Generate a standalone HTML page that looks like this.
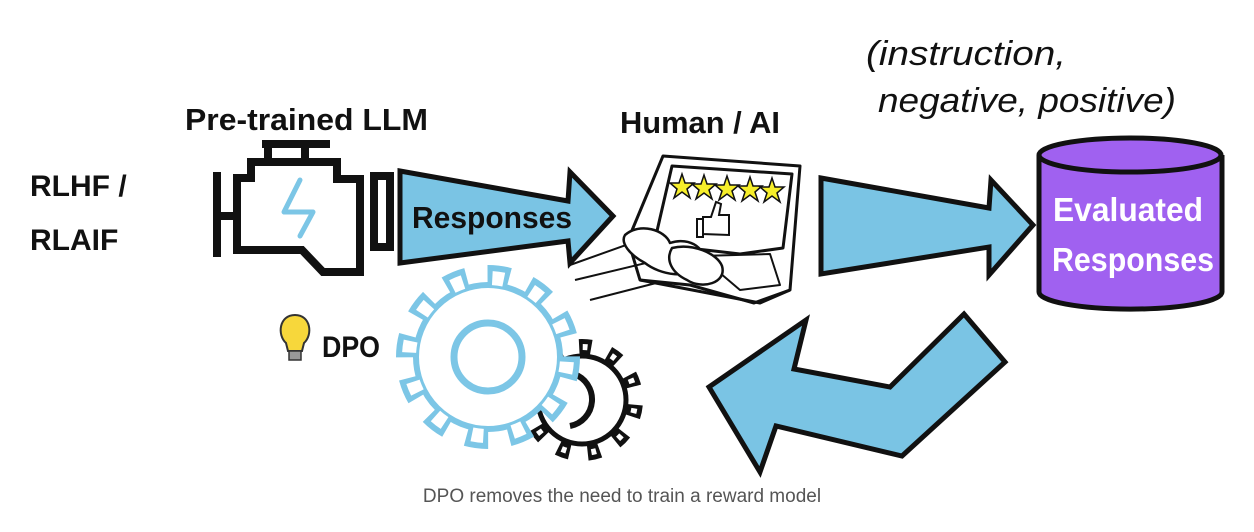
<!DOCTYPE html>
<html><head><meta charset="utf-8"><style>
html,body{margin:0;padding:0;background:#fff;width:1254px;height:532px;overflow:hidden}
svg{display:block}
.b{font-family:"Liberation Sans",sans-serif;font-weight:bold;fill:#111}
.h{font-family:"Liberation Sans",sans-serif;font-style:italic;fill:#111}
</style></head><body>
<svg width="1254" height="532" viewBox="0 0 1254 532" xmlns="http://www.w3.org/2000/svg">
<!-- labels -->
<text class="b" x="30" y="196" font-size="30">RLHF /</text>
<text class="b" x="30" y="250" font-size="30">RLAIF</text>
<text class="b" x="185" y="130" font-size="31" textLength="243" lengthAdjust="spacingAndGlyphs">Pre-trained LLM</text>
<text class="b" x="620" y="133" font-size="31" textLength="160" lengthAdjust="spacingAndGlyphs">Human / AI</text>
<text class="h" x="866" y="65" font-size="34" textLength="200" lengthAdjust="spacingAndGlyphs">(instruction,</text>
<text class="h" x="878" y="112" font-size="34" textLength="298" lengthAdjust="spacingAndGlyphs">negative, positive)</text>

<!-- engine -->
<g fill="none" stroke="#111" stroke-width="8" stroke-linejoin="miter">
<line x1="217" y1="172" x2="217" y2="257"/>
<line x1="217" y1="216" x2="237" y2="216"/>
<path d="M237 178 H251 V162 H337 V179 H360 V272 H323 L302 250 H237 Z"/>
<rect x="374" y="176" width="16" height="71"/>
<line x1="268" y1="161" x2="268" y2="144"/>
<line x1="305" y1="161" x2="305" y2="144"/>
<line x1="262" y1="144" x2="330" y2="144"/>
</g>
<path d="M300 180 L284 212 H313 L300 236" fill="none" stroke="#7cc6e6" stroke-width="5" stroke-linecap="round" stroke-linejoin="round"/>

<!-- arrow 1 -->
<polygon points="400,171 568,201 570,172 613,216 570,263 568,241 400,263" fill="#7ac4e4" stroke="#111" stroke-width="5" stroke-linejoin="miter"/>
<text class="b" x="412" y="228" font-size="31" textLength="160" lengthAdjust="spacingAndGlyphs">Responses</text>

<!-- laptop -->
<g fill="none" stroke="#111" stroke-width="3" stroke-linejoin="round">
<path d="M663 156 L800 166 L790 290 L754 303 L690 285 L640 280 L628 240 Z" fill="#fff"/>
<path d="M672 166 L792 174 L783 248 L740 254 L654 244 Z"/>
<path d="M640 280 L760 303 L790 290"/>
<path d="M700 256 L770 254 L780 285 L740 290 Z" stroke-width="2"/>
<path d="M570 265 L640 240 M575 280 L650 262 M590 300 L660 282" stroke-width="2"/>
<path d="M625 235 C640 222 665 230 670 243 C690 236 710 250 700 265 C690 280 660 275 645 263 C630 255 620 243 625 235 Z" fill="#fff" stroke-width="2.5"/>
<path d="M672 248 C692 243 717 253 722 266 C727 283 702 290 687 280 C672 273 665 260 672 248 Z" fill="#fff" stroke-width="2.5"/>
</g>
<g fill="#f6ee2a" stroke="#111" stroke-width="1.5">
<polygon id="st" points="682,174 685,183 694,183 687,189 690,198 682,192 674,198 677,189 670,183 679,183"/>
<use href="#st" x="22" y="1"/><use href="#st" x="45" y="2"/><use href="#st" x="68" y="3"/><use href="#st" x="90" y="4"/>
</g>
<path d="M703 234 V217 H711 L716 202 L721 204 L719 215 H729 V235 Z M697 219 H703 V237 H697 Z" fill="#fff" stroke="#111" stroke-width="2"/>

<!-- arrow 2 -->
<polygon points="821,178 989,208 991,180 1033,225 989,275 989,247 821,274" fill="#7ac4e4" stroke="#111" stroke-width="5"/>

<!-- cylinder -->
<path d="M1039 155 V292 A91 17 0 0 0 1222 292 V155" fill="#a061f0" stroke="#111" stroke-width="5"/>
<ellipse cx="1130" cy="155" rx="91" ry="17" fill="#a061f0" stroke="#111" stroke-width="5"/>
<text class="b" x="1128" y="221" font-size="33" text-anchor="middle" textLength="150" lengthAdjust="spacingAndGlyphs" style="fill:#fff">Evaluated</text>
<text class="b" x="1133" y="271" font-size="33" text-anchor="middle" textLength="162" lengthAdjust="spacingAndGlyphs" style="fill:#fff">Responses</text>

<!-- return arrow -->
<polygon points="964,314 1005,362 902,456 776,426 760,472 709,387 806,320 794,369 890,387" fill="#7ac4e4" stroke="#111" stroke-width="5"/>

<!-- black gear -->
<g transform="translate(582,400)">
<circle r="53" fill="none" stroke="#111" stroke-width="16" stroke-dasharray="0 4 10 11" pathLength="275"/>
<circle r="53" fill="none" stroke="#fff" stroke-width="6" stroke-dasharray="0 7 4 14" pathLength="275"/>
<circle r="44" fill="none" stroke="#111" stroke-width="5"/>
<circle r="40" fill="#fff"/>
<path d="M-8 -26 A27 27 0 0 1 -12 26" fill="none" stroke="#111" stroke-width="6"/>
</g>
<!-- blue gear -->
<g transform="translate(488,357)">
<circle r="72" fill="#fff" stroke="#7cc6e6" stroke-width="6"/>
<circle r="82" fill="none" stroke="#7cc6e6" stroke-width="20" stroke-dasharray="22 21" pathLength="516"/>
<circle r="79" fill="none" stroke="#fff" stroke-width="14" stroke-dasharray="0 5 12 26" pathLength="516"/>
<circle r="34" fill="none" stroke="#7cc6e6" stroke-width="7"/>
</g>

<!-- bulb + DPO -->
<g transform="translate(295,333)">
<path d="M-9 10 C-18 2 -16 -18 0 -18 C16 -18 18 2 9 10 L7 18 H-7 Z" fill="#f7d73b" stroke="#333" stroke-width="2"/>
<rect x="-6" y="18" width="12" height="9" fill="#999" stroke="#333" stroke-width="1.5"/>
</g>
<text class="b" x="322" y="357" font-size="30" textLength="58" lengthAdjust="spacingAndGlyphs">DPO</text>

<text x="622" y="502" font-family="Liberation Sans, sans-serif" font-size="19" fill="#555" text-anchor="middle">DPO removes the need to train a reward model</text>
</svg>
</body></html>
